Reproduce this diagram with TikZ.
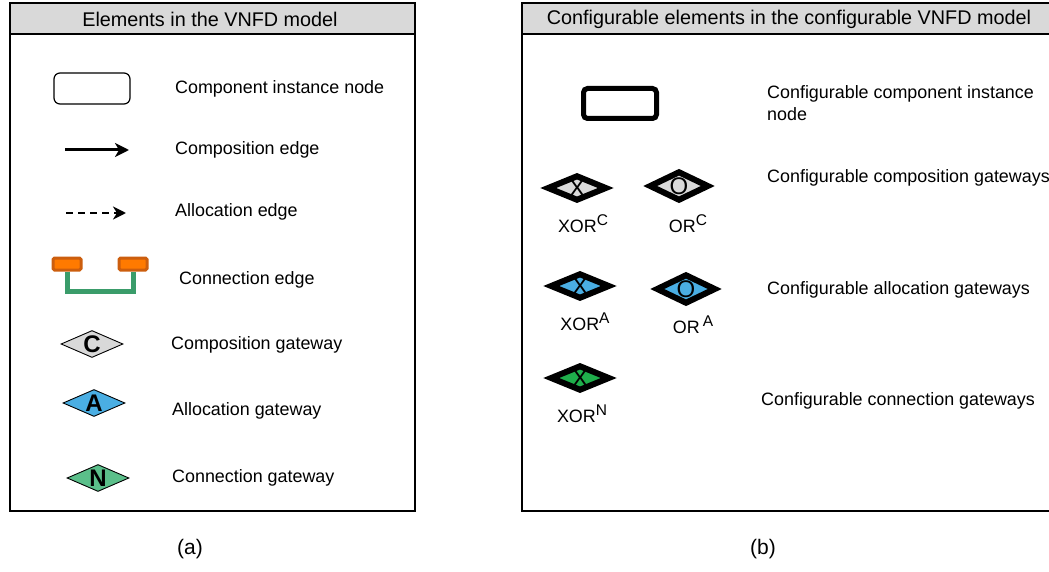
\documentclass[tikz,border=0pt]{standalone}
\usepackage{fontspec}
\setmainfont{Liberation Sans}
\usetikzlibrary{arrows.meta,shapes.geometric}
\definecolor{hdrgray}{HTML}{D9D9D9}
\definecolor{gateblue}{HTML}{4AAEE3}
\definecolor{gategreen}{HTML}{5BBF8A}
\definecolor{cfggreen}{HTML}{1FAE4B}
\definecolor{portorange}{HTML}{FF7A00}
\definecolor{portedge}{HTML}{CC5E0E}
\definecolor{linkgreen}{HTML}{3A9C6A}
\newcommand{\gsup}[1]{\raisebox{0.75ex}{\fontsize{15.5}{15}\selectfont #1}}

\begin{document}
\begin{tikzpicture}[x=1pt, y=-1pt,
    panel/.style={draw=black, line width=1.4pt},
    header/.style={draw=black, fill=hdrgray, line width=1.4pt},
    title/.style={font=\fontsize{19.8}{22}\selectfont},
    txt/.style={anchor=west, inner sep=0pt, font=\fontsize{17.9}{22}\selectfont},
    gate/.style={shape=diamond, draw=black, line width=0.9pt, minimum width=62pt, minimum height=27pt, inner sep=0pt},
    cfggate/.style={shape=diamond, draw=black, line width=6pt, minimum width=60pt, minimum height=26pt, inner sep=0pt},
    letter/.style={font=\fontsize{24}{24}\selectfont\bfseries, inner sep=0pt},
    cfgletter/.style={font=\fontsize{24}{24}\selectfont, inner sep=0pt},
    port/.style={draw=portedge, fill=portorange, line width=3pt, rounded corners=1.5pt, minimum width=28pt, minimum height=12pt, inner sep=0pt}
]
\useasboundingbox (0,0) rectangle (1049,572);

% panel (a)
\draw[panel] (10,3) rectangle (415,511);
\draw[header] (10,3) rectangle (415,34);
\node[title] (ta) at (210,19) {Elements in the VNFD model};

\node[draw=black, line width=1.2pt, rounded corners=6pt, minimum width=76pt, minimum height=31pt] (inst) at (92,88.5) {};
\node[txt] (tinst) at (175,89) {Component instance node};

\coordinate (ce1) at (65,150);
\coordinate (ce2) at (129,150);
\draw[line width=3pt, -{Stealth[length=14pt, width=14pt, inset=4pt]}] (ce1) -- (ce2);
\node[txt] (tce) at (175,150) {Composition edge};

\coordinate (ae1) at (66,213);
\coordinate (ae2) at (126,213);
\draw[line width=2.4pt, dash pattern=on 7pt off 5pt, -{Stealth[length=13pt, width=13pt, inset=4pt]}] (ae1) -- (ae2);
\node[txt] (tae) at (175,212) {Allocation edge};

\node[port] (cl) at (67,264) {};
\node[port] (cr) at (133,264) {};
\draw[linkgreen, line width=5pt] (cl.south) -- ++(0,20) -| (cr.south);
\node[txt] (tcn) at (179,280) {Connection edge};

\node[gate, fill=hdrgray] (gc) at (92,344) {};
\node[letter] (lc) at (gc) {C};
\node[txt] (tgc) at (171,345) {Composition gateway};

\node[gate, fill=gateblue] (ga) at (94,403) {};
\node[letter] (la) at (ga) {A};
\node[txt] (tga) at (172,411) {Allocation gateway};

\node[gate, fill=gategreen] (gn) at (98,478) {};
\node[letter] (ln) at (gn) {N};
\node[txt] (tgn) at (172,478) {Connection gateway};

% panel (b)
\draw[panel] (522,3) rectangle (1051,511);
\draw[header] (522,3) rectangle (1051,34);
\node[title] (tb) at (789,19) {Configurable elements in the configurable VNFD model};

\node[draw=black, line width=5pt, rounded corners=4pt, minimum width=73pt, minimum height=30pt] (cinst) at (620,103.5) {};
\node[txt, align=left] (tcinst) at (767,103) {Configurable component instance\\node};

\node[cfggate, fill=hdrgray] (xc) at (577,188) {};
\node[cfgletter] (lxc1) at (xc) {X};
\node[cfggate, fill=hdrgray, minimum height=30pt] (oc) at (679,186) {};
\node[cfgletter] (loc1) at (oc) {O};
\node[txt, anchor=center] (lxc) at (583,224) {XOR\gsup{C}};
\node[txt, anchor=center] (loc) at (688,224) {OR\gsup{C}};
\node[txt] (tcc) at (767,178) {Configurable composition gateways};

\node[cfggate, fill=gateblue] (xa) at (580,286) {};
\node[cfgletter] (lxa1) at (xa) {X};
\node[cfggate, fill=gateblue, minimum height=30pt] (oa) at (686,289) {};
\node[cfgletter] (loa1) at (oa) {O};
\node[txt, anchor=center] (lxa) at (585,322) {XOR\gsup{A}};
\node[txt, anchor=center] (loa) at (693,325) {OR\,\gsup{A}};
\node[txt] (tca) at (767,290) {Configurable allocation gateways};

\node[cfggate, fill=cfggreen] (xn) at (580,378) {};
\node[cfgletter] (lxn1) at (xn) {X};
\node[txt, anchor=center] (lxn) at (582,414) {XOR\gsup{N}};
\node[txt] (tcn2) at (761,401) {Configurable connection gateways};

% captions
\node[title, font=\fontsize{21}{24}\selectfont] (capa) at (190,549) {(a)};
\node[title, font=\fontsize{21}{24}\selectfont] (capb) at (763,549) {(b)};
\end{tikzpicture}
\end{document}
